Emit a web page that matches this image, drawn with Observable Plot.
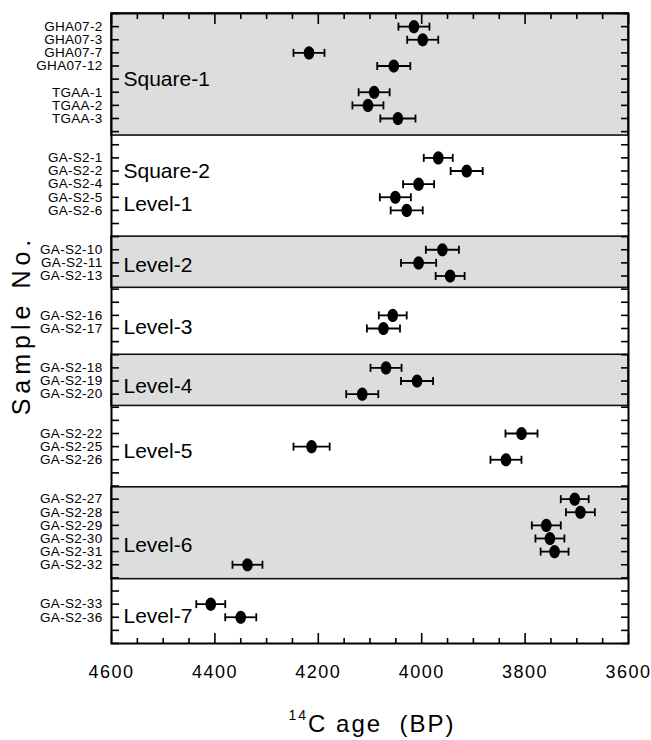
<!DOCTYPE html>
<html><head><meta charset="utf-8">
<script src="https://cdn.jsdelivr.net/npm/d3@7"></script>
<script src="https://cdn.jsdelivr.net/npm/@observablehq/plot@0.6"></script>
<style>
body{margin:0;background:#fff;}
g[aria-label="x-axis tick label"] text{letter-spacing:1.5px;}
g[aria-label="y-axis tick label"] text{letter-spacing:0.3px;}
</style></head><body><div id="chart"></div>
<script>
// Sample names and their row positions (row 0 = top of frame, 48 = bottom)
const samples = ["GHA07-2","GHA07-3","GHA07-7","GHA07-12","TGAA-1","TGAA-2","TGAA-3",
  "GA-S2-1","GA-S2-2","GA-S2-4","GA-S2-5","GA-S2-6",
  "GA-S2-10","GA-S2-11","GA-S2-13",
  "GA-S2-16","GA-S2-17",
  "GA-S2-18","GA-S2-19","GA-S2-20",
  "GA-S2-22","GA-S2-25","GA-S2-26",
  "GA-S2-27","GA-S2-28","GA-S2-29","GA-S2-30","GA-S2-31","GA-S2-32",
  "GA-S2-33","GA-S2-36"];
const sampleRows = [1,2,3,4,6,7,8, 11,12,13,14,15, 18,19,20, 23,24, 27,28,29, 32,33,34, 37,38,39,40,41,42, 45,46];
// 14C ages (BP) and 1-sigma errors
const ages = [4015,3998,4218,4054,4092,4104,4046,
  3968,3913,4006,4051,4029,
  3960,4006,3945,
  4056,4074,
  4069,4009,4115,
  3807,4213,3837,
  3704,3693,3759,3752,3743,4337,
  4408,4350];
const errors = [30,30,30,32,30,30,34,
  28,31,30,30,31,
  32,34,28,
  27,32,
  30,31,31,
  31,35,30,
  27,28,28,28,27,29,
  28,30];
// group labels
const groupNames = ["Square-1","Square-2","Level-1","Level-2","Level-3","Level-4","Level-5","Level-6","Level-7"];
const groupRows = [5,12,14.5,19.2,23.9,28.4,33.35,40.5,45.9];
// shaded bands
const bandStarts = [0,17,26,36.1];
const bandEnds = [9.3,20.9,29.9,43.1];
// axis ticks
const xMajorTicks = [4600,4400,4200,4000,3800,3600];
const xMinorTicks = [4550,4500,4450,4350,4300,4250,4150,4100,4050,3950,3900,3850,3750,3700,3650];
const rowTicks = d3.range(0,49);

const rows = samples.map((s,i)=>({sample:s,row:sampleRows[i],age:ages[i],err:errors[i]}));
const bands = bandStarts.map((s,i)=>({y1:s,y2:bandEnds[i]}));
const groups = groupNames.map((g,i)=>({name:g,row:groupRows[i]}));
const labelOf = new Map(sampleRows.map((r,i)=>[r,samples[i]]));

const ellipse = {draw(ctx){
  const rx=5.3, ry=6.6, k=0.5523;
  ctx.moveTo(rx,0);
  ctx.bezierCurveTo(rx,ry*k,rx*k,ry,0,ry);
  ctx.bezierCurveTo(-rx*k,ry,-rx,ry*k,-rx,0);
  ctx.bezierCurveTo(-rx,-ry*k,-rx*k,-ry,0,-ry);
  ctx.bezierCurveTo(rx*k,-ry,rx,-ry*k,rx,0);
  ctx.closePath();
}};
const cap = {draw(ctx){ctx.moveTo(0,-4);ctx.lineTo(0,4);}};

const chart = Plot.plot({
  width:651, height:740,
  marginLeft:111, marginRight:23, marginTop:13, marginBottom:97,
  style:{fontFamily:"'Liberation Sans', Arial, Helvetica, sans-serif", fontSize:"14px", color:"#000", background:"#fff"},
  x:{domain:[4600,3600]},
  y:{domain:[0,48], reverse:true},
  marks:[
    Plot.rect(bands,{y1:"y1",y2:"y2",fill:"#dcdddd",stroke:"#111",strokeWidth:1.6}),
    Plot.axisY({anchor:"left",ticks:rowTicks,tickSize:-8,tickFormat:()=>"",label:null,strokeWidth:1.6}),
    Plot.axisY({anchor:"right",ticks:rowTicks,tickSize:-8,tickFormat:()=>"",label:null,strokeWidth:1.6}),
    Plot.axisY({anchor:"left",ticks:sampleRows,tickSize:0,tickPadding:9,tickFormat:r=>labelOf.get(r),label:null,fontSize:13.5}),
    Plot.axisX({anchor:"top",ticks:xMinorTicks,tickSize:-5,tickFormat:()=>"",label:null,strokeWidth:1.6}),
    Plot.axisX({anchor:"top",ticks:xMajorTicks,tickSize:-10,tickFormat:()=>"",label:null,strokeWidth:1.6}),
    Plot.axisX({anchor:"bottom",ticks:xMinorTicks,tickSize:-5,tickFormat:()=>"",label:null,strokeWidth:1.6}),
    Plot.axisX({anchor:"bottom",ticks:xMajorTicks,tickSize:-10,tickPadding:32,tickFormat:d=>String(d),label:null,fontSize:18,strokeWidth:1.6}),
    Plot.ruleY(rows,{y:"row",x1:d=>d.age-d.err,x2:d=>d.age+d.err,stroke:"#000",strokeWidth:1.8}),
    Plot.dot(rows,{x:d=>d.age-d.err,y:"row",symbol:cap,fill:"none",stroke:"#000",strokeWidth:1.8}),
    Plot.dot(rows,{x:d=>d.age+d.err,y:"row",symbol:cap,fill:"none",stroke:"#000",strokeWidth:1.8}),
    Plot.dot(rows,{x:"age",y:"row",symbol:ellipse,fill:"#000",stroke:"none"}),
    Plot.text(groups,{y:"row",text:"name",frameAnchor:"left",dx:12,textAnchor:"start",fontSize:21,fill:"#000"}),
    Plot.frame({stroke:"#000",strokeWidth:2})
  ]
});
document.getElementById("chart").appendChild(chart);

const svg = d3.select(chart);
svg.append("text")
  .attr("transform","translate(21,325) rotate(-90)")
  .attr("text-anchor","middle").attr("dy","0.35em")
  .attr("font-size",25).attr("fill","#000")
  .style("letter-spacing","5px")
  .text("Sample No.");
const t = svg.append("text")
  .attr("x",372).attr("y",732).attr("text-anchor","middle")
  .attr("font-size",24).attr("fill","#000")
  .style("letter-spacing","2px").style("white-space","pre");
t.append("tspan").attr("font-size",14).attr("dy",-12).text("14");
t.append("tspan").attr("dy",12).text("C age  (BP)");
</script></body></html>
